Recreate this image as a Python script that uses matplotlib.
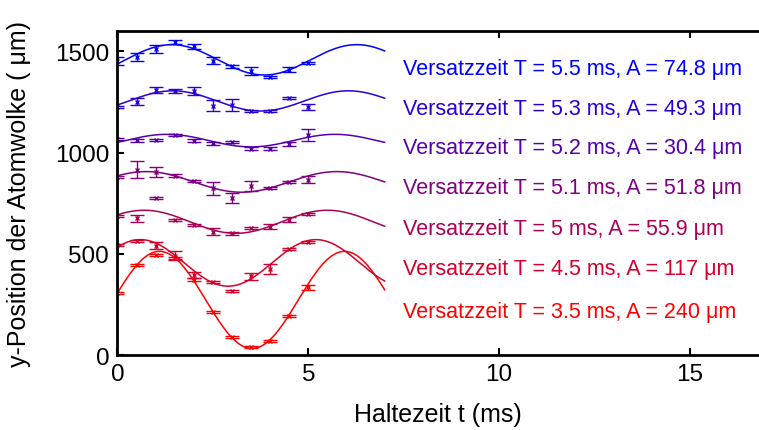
import numpy as np
import matplotlib
matplotlib.use("Agg")
import matplotlib.pyplot as plt

plt.rcParams['font.family'] = ['Liberation Sans', 'DejaVu Sans']

# offset times T (ms) and fitted amplitudes A (um), bottom to top
T_vals = [3.5, 4.5, 5, 5.1, 5.2, 5.3, 5.5]
A_labels = ['240', '117', '55.9', '51.8', '30.4', '49.3', '74.8']

# measured points: hold time t (ms), y position (um), error (um)
t_35 = [0, 0.5, 1.0, 1.5, 2.0, 2.5, 3.0, 3.5, 4.0, 4.5, 5.0]
y_35 = [306, 445, 494, 478, 372, 211, 91, 38, 71, 191, 334]
e_35 = [5, 5, 5, 6, 6, 5, 5, 5, 5, 5, 13]

t_45 = [0, 0.5, 1.0, 1.5, 2.0, 2.5, 3.0, 3.5, 4.0, 4.5, 5.0]
y_45 = [543, 565, 540, 491, 395, 359, 315, 389, 425, 524, 560]
e_45 = [5, 5, 18, 22, 15, 5, 5, 18, 26, 5, 5]

t_50 = [0, 0.5, 1.5, 2.0, 2.5, 3.0, 3.5, 4.0, 4.5, 5.0]
y_50 = [685, 675, 668, 644, 609, 601, 629, 634, 668, 697]
e_50 = [5, 16, 5, 5, 18, 7, 5, 14, 12, 5]

t_51 = [0, 0.5, 1.0, 1.0, 1.5, 2.0, 2.5, 3.0, 3.5, 4.0, 4.5, 5.0]
y_51 = [878, 916, 906, 776, 886, 858, 823, 776, 834, 825, 853, 866]
e_51 = [5, 41, 25, 6, 7, 5, 33, 25, 24, 5, 5, 16]

t_52 = [0, 0.5, 1.0, 1.5, 2.0, 2.5, 3.0, 3.5, 4.0, 4.5, 5.0]
y_52 = [1067, 1060, 1063, 1089, 1059, 1046, 1050, 1019, 1019, 1040, 1086]
e_52 = [5, 8, 5, 5, 7, 7, 5, 7, 7, 10, 30]

t_53 = [0, 0.5, 1.0, 1.5, 2.0, 2.5, 3.0, 3.5, 4.0, 4.5, 5.0]
y_53 = [1224, 1252, 1309, 1306, 1306, 1232, 1235, 1204, 1204, 1270, 1227]
e_53 = [5, 19, 14, 10, 20, 26, 31, 5, 5, 5, 15]

t_55 = [0, 0.5, 1.0, 1.5, 2.0, 2.5, 3.0, 3.5, 4.0, 4.5, 5.0]
y_55 = [1454, 1471, 1512, 1545, 1525, 1454, 1426, 1402, 1372, 1410, 1441]
e_55 = [20, 20, 20, 10, 12, 18, 7, 20, 5, 13, 5]

t_pts = [t_35, t_45, t_50, t_51, t_52, t_53, t_55]
y_pts = [y_35, y_45, y_50, y_51, y_52, y_53, y_55]
e_pts = [e_35, e_45, e_50, e_51, e_52, e_53, e_55]

# fit parameters: offset, amplitude, time of first maximum, period
fit_C = [272, 455, 658, 855, 1059, 1255, 1458]
fit_A = [240, 115, 57, 51, 31, 50, 75]
fit_tmax = [1.1, 0.6, 0.7, 0.75, 1.3, 1.45, 1.42]
fit_P = [4.85, 4.6, 4.8, 5.0, 4.4, 4.6, 4.85]

# label positions (data units)
label_x = 7.48
label_y = [217, 425, 627, 825, 1023, 1220, 1416]

fig = plt.figure(figsize=(7.59, 4.31), dpi=100)
ax = fig.add_axes([0.1548, 0.174, 0.8452, 0.7525])

tt = np.linspace(0, 7, 300)
n = len(T_vals)
for i in range(n):
    f = i / (n - 1)
    col = (1 - f, 0, f)
    yfit = fit_C[i] + fit_A[i] * np.cos(2 * np.pi * (tt - fit_tmax[i]) / fit_P[i])
    ax.plot(tt, yfit, color=col, lw=1.1)
    ax.errorbar(t_pts[i], y_pts[i], yerr=e_pts[i], fmt='x', color=col,
                ms=3, mew=1.0, elinewidth=1.0, capsize=5, capthick=1.0)
    ax.text(label_x, label_y[i],
            'Versatzzeit T = %s ms, A = %s μm' % (T_vals[i], A_labels[i]),
            color=col, fontsize=15.5, va='center', ha='left')

ax.set_xlim(0, 16.81)
ax.set_ylim(0, 1602)
ax.set_xticks([0, 5, 10, 15])
ax.set_yticks([0, 500, 1000, 1500])
ax.tick_params(direction='in', length=5, width=1.5, labelsize=17.5,
               top=True, right=False, pad=6)
for s in ['left', 'bottom', 'top']:
    ax.spines[s].set_linewidth(2)
ax.spines['right'].set_visible(False)

ax.set_xlabel('Haltezeit t (ms)', fontsize=18, labelpad=12)
ax.set_ylabel('y-Position der Atomwolke ( μm)', fontsize=18, labelpad=17)

fig.savefig('out.png', dpi=100)
